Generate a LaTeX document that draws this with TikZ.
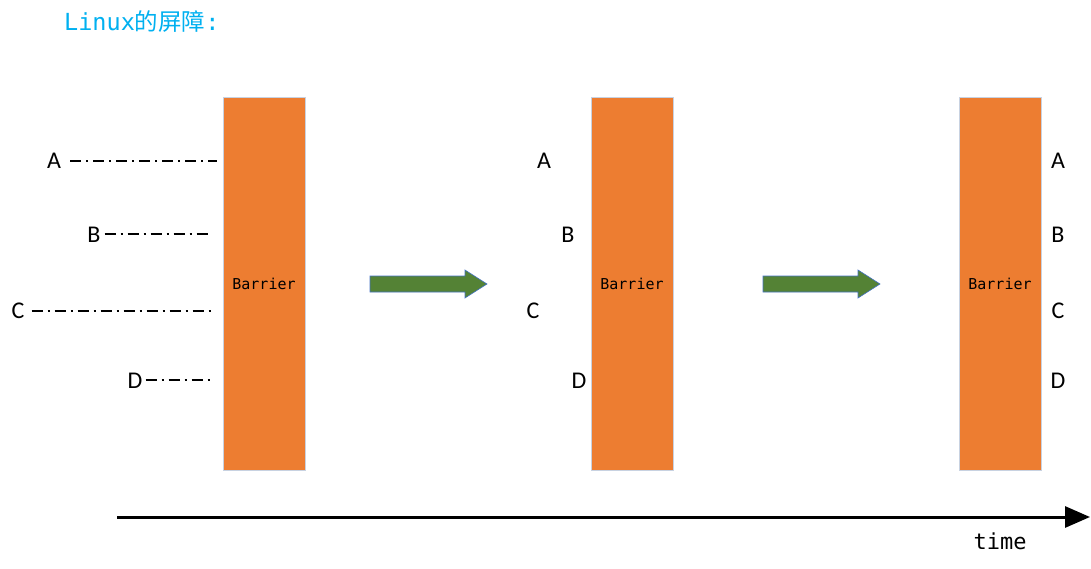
\documentclass[tikz,border=0pt]{standalone}
\usepackage{fontspec}
\setmainfont{Carlito}
\newfontfamily\monof{DejaVu Sans Mono}
\newfontfamily\cjk{Noto Sans CJK SC}
\usetikzlibrary{arrows.meta}
\definecolor{barrierorange}{RGB}{237,125,49}
\definecolor{barrieredge}{RGB}{200,210,225}
\definecolor{titlecyan}{RGB}{0,176,240}
\definecolor{arrowgreen}{RGB}{84,130,53}
\definecolor{arrowedge}{RGB}{68,114,196}
\tikzset{
  barrierbox/.style={draw=barrieredge, line width=0.8pt, fill=barrierorange, minimum width=82pt, minimum height=373pt, inner sep=0pt, font=\monof\fontsize{15}{17}\selectfont, text=black},
  lbl/.style={font=\fontsize{24}{27}\selectfont, inner sep=0pt},
  dashdotline/.style={line width=1.1pt, dash pattern=on 11pt off 5pt on 2pt off 5pt},
  greenarrow/.style={fill=arrowgreen, draw=arrowedge, line width=0.6pt},
}
\begin{document}
\begin{tikzpicture}[x=1pt,y=-1pt]
\useasboundingbox (0,0) rectangle (1091,569);
% title
\node[anchor=west, inner sep=0pt, text=titlecyan, font=\fontsize{23.5}{27}\selectfont] (title) at (64,22) {\monof Linux\cjk 的屏障\monof :};
% barriers
\node[barrierbox] (bar1) at (264,283.5) {Barrier};
\node[barrierbox] (bar2) at (632,283.5) {Barrier};
\node[barrierbox] (bar3) at (1000,283.5) {Barrier};
% panel 1 labels and lines
\node[lbl] (a1) at (54,161) {A};
\node[lbl] (b1) at (94,235) {B};
\node[lbl] (c1) at (18,311) {C};
\node[lbl] (d1) at (135,381) {D};
\coordinate (ea1) at (217,161);
\coordinate (eb1) at (211,234);
\coordinate (ec1) at (212,311);
\coordinate (ed1) at (213,380);
\draw[dashdotline] ([xshift=9pt]a1.east |- ea1) -- (ea1);
\draw[dashdotline] ([xshift=4pt]b1.east |- eb1) -- (eb1);
\draw[dashdotline] ([xshift=7pt]c1.east |- ec1) -- (ec1);
\draw[dashdotline] ([xshift=3pt]d1.east |- ed1) -- (ed1);
% panel 2 labels
\node[lbl] (a2) at (544,161) {A};
\node[lbl] (b2) at (568,235) {B};
\node[lbl] (c2) at (533,311) {C};
\node[lbl] (d2) at (579,381) {D};
% panel 3 labels
\node[lbl] (a3) at (1058,161) {A};
\node[lbl] (b3) at (1058,235) {B};
\node[lbl] (c3) at (1058,311) {C};
\node[lbl] (d3) at (1058,381) {D};
% green arrows
\draw[greenarrow] (370,276) -- (465,276) -- (465,270) -- (487,284) -- (465,298) -- (465,292) -- (370,292) -- cycle;
\draw[greenarrow] (763,276) -- (858,276) -- (858,270) -- (880,284) -- (858,298) -- (858,292) -- (763,292) -- cycle;
% time axis
\coordinate (tstart) at (117,517);
\coordinate (tend) at (1090,517);
\draw[line width=3pt, -{Triangle[length=25pt,width=21pt]}] (tstart) -- (tend);
\node[inner sep=0pt, font=\monof\fontsize{22}{26}\selectfont] (time) at (1000,541) {time};
\end{tikzpicture}
\end{document}
